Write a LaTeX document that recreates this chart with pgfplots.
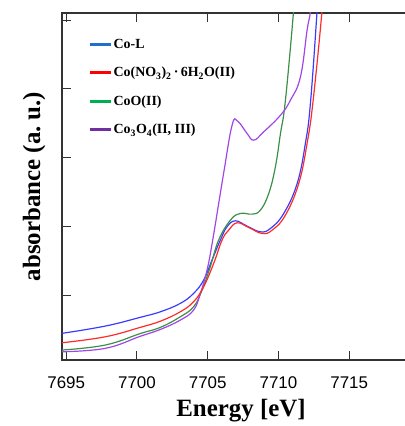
\documentclass[border=0pt]{standalone}
\usepackage{fontspec}
\setmainfont{Liberation Serif}
\setsansfont{Liberation Sans}
\usepackage{pgfplots}
\pgfplotsset{compat=1.18}
\usetikzlibrary{calc}

\definecolor{cblue}{HTML}{3B3BFF}
\definecolor{cred}{HTML}{FF2A2A}
\definecolor{cgreen}{HTML}{3D8F47}
\definecolor{cpurple}{HTML}{A046E6}
\definecolor{lblue}{HTML}{1F6FD0}
\definecolor{lred}{HTML}{FF0000}
\definecolor{lgreen}{HTML}{00B050}
\definecolor{lpurple}{HTML}{7030A0}

\begin{document}
\begin{tikzpicture}
\begin{axis}[
  name=ax,
  scale only axis,
  width=358bp, height=347bp,
  xmin=7694.7, xmax=7720,
  ymin=0.055, ymax=5.106,
  xtick={7695,7700,...,7715},
  ytick={1,...,5},
  yticklabels={},
  xtick pos=both,
  ytick pos=left,
  tick align=inside,
  major tick length=9bp,
  axis line style={line width=1.1bp, black!80},
  tick style={line width=1bp, black!80},
  /pgf/number format/set thousands separator={},
  /pgf/number format/assume math mode=true,
  xticklabel style={font=\sffamily\fontsize{17}{17}\selectfont, anchor=base, yshift=-28bp},
  xlabel={\textbf{Energy [eV]}},
  ylabel={\textbf{absorbance (a.\ u.)}},
  every axis x label/.style={at={(axis description cs:0.5,-0.147)}, anchor=center, font=\fontsize{25}{25}\selectfont},
  every axis y label/.style={at={(axis description cs:-0.078,0.50)}, anchor=center, rotate=90, font=\fontsize{25}{25}\selectfont},
  legend cell align=left,
  legend style={draw=none, fill=none, at={(rel axis cs:0.064,0.935)}, anchor=north west,
    font=\bfseries\fontsize{14}{14}\selectfont, row sep=14.3bp,
    nodes={inner sep=1.5bp}},
  legend image code/.code={\draw[#1, line width=3bp] (0bp,0bp) -- (21bp,0bp);},
  every axis plot/.append style={line width=1.2bp, smooth, tension=0.7},
]
\addlegendimage{lblue}
\addlegendentry{Co-L}
\addlegendimage{lred}
\addlegendentry{Co(NO\textsubscript{3})\textsubscript{2}\,·\,6H\textsubscript{2}O(II)}
\addlegendimage{lgreen}
\addlegendentry{CoO(II)}
\addlegendimage{lpurple}
\addlegendentry{Co\textsubscript{3}O\textsubscript{4}(II, III)}

% Co-L
\addplot[cblue, forget plot] coordinates {
  (7694.70,0.443) (7697.76,0.549) (7700.23,0.676) (7701.65,0.757)
  (7703.06,0.879) (7704.00,1.025) (7704.71,1.218) (7705.30,1.509)
  (7705.89,1.800) (7706.36,1.993) (7706.95,2.081) (7707.78,2.004)
  (7708.72,1.921) (7709.43,1.970) (7710.37,2.188) (7711.32,2.625)
  (7711.90,3.207) (7712.26,3.800) (7712.73,5.145) (7712.85,5.60)
};
% CoO
\addplot[cgreen, forget plot] coordinates {
  (7694.70,0.200) (7697.76,0.273) (7700.23,0.440) (7701.65,0.530)
  (7703.06,0.684) (7704.00,0.830) (7704.60,1.073) (7705.18,1.412)
  (7705.77,1.800) (7706.60,2.091) (7707.31,2.188) (7708.13,2.178)
  (7708.72,2.236) (7709.31,2.479) (7709.78,2.866) (7710.14,3.352)
  (7710.49,3.836) (7711.07,5.145) (7711.20,5.60)
};
% Co3O4
\addplot[cpurple, forget plot] coordinates {
  (7694.70,0.175) (7697.76,0.225) (7700.23,0.400) (7701.65,0.500)
  (7703.06,0.636) (7704.00,0.782) (7704.48,1.025) (7704.95,1.364)
  (7705.35,1.800) (7706.12,2.770) (7706.72,3.473) (7707.11,3.531)
  (7707.78,3.352) (7708.25,3.255) (7708.95,3.375) (7710.14,3.618)
  (7710.84,3.836) (7711.55,4.175) (7712.02,4.855) (7712.26,5.145)
  (7712.35,5.60)
};
% Co(NO3)2 6H2O
\addplot[cred, forget plot] coordinates {
  (7694.70,0.306) (7697.76,0.393) (7700.23,0.530) (7701.65,0.620)
  (7703.06,0.757) (7704.00,0.903) (7704.71,1.121) (7705.42,1.461)
  (7706.01,1.800) (7706.48,1.945) (7707.07,2.052) (7707.89,1.985)
  (7708.84,1.897) (7709.55,1.945) (7710.49,2.164) (7711.43,2.625)
  (7712.02,3.207) (7712.45,3.836) (7713.08,5.145) (7713.20,5.60)
};
\end{axis}
\pgfresetboundingbox
\path[use as bounding box] ($(ax.south west)+(-62bp,-66bp)$) rectangle ($(ax.north east)+(-15bp,13bp)$);
\end{tikzpicture}
\end{document}
